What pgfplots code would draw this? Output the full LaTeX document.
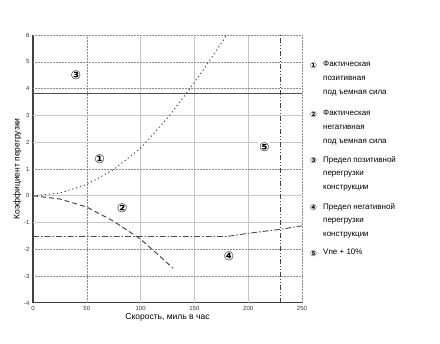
\documentclass[border=0pt]{standalone}
\usepackage{pgfplots}
\pgfplotsset{compat=1.18}
\usepackage{fontspec}
\setmainfont{Liberation Sans}
\newfontfamily\sym{DejaVu Sans}
\begin{document}
\begin{tikzpicture}[x=1pt,y=1pt]
\useasboundingbox (0,0) rectangle (440,344);
\begin{axis}[
  at={(33pt,41pt)}, anchor=south west,
  scale only axis, width=269pt, height=268pt,
  xmin=0, xmax=250, ymin=-4, ymax=6,
  xtick={0,50,...,250}, ytick={-4,-3,...,6},
  axis x line*=bottom, axis y line*=left,
  axis line style={black!75, line width=1pt},
  tick style={draw=none},
  /pgf/number format/assume math mode=true,
  ticklabel style={font=\fontsize{6}{7}\selectfont, text=black!80},
  xlabel={Скорость, миль в час}, ylabel={Коэффициент перегрузки},
  label style={font=\fontsize{8.5}{10}\selectfont},
  xlabel style={yshift=4pt}, ylabel style={yshift=-4pt},
  clip=false,
]
% grid
\foreach \xx in {100,150,200}{\edef\tmp{\noexpand\draw[black!22, line width=0.9pt] (axis cs:\xx,-4) -- (axis cs:\xx,6);}\tmp}
\foreach \xx in {50,250}{\edef\tmp{\noexpand\draw[black!45, densely dotted, line width=0.5pt] (axis cs:\xx,-4) -- (axis cs:\xx,6);}\tmp}
\foreach \yy in {3,2,0,-1}{\edef\tmp{\noexpand\draw[black!22, line width=0.9pt] (axis cs:0,\yy) -- (axis cs:250,\yy);}\tmp}
\foreach \yy in {6,5,4,1,-2,-3}{\edef\tmp{\noexpand\draw[black!45, densely dotted, line width=0.5pt] (axis cs:0,\yy) -- (axis cs:250,\yy);}\tmp}
% curve 1
\addplot[black!70, dash pattern=on 1.2pt off 2.8pt, line width=1pt] coordinates {(0,0) (25,0.1) (50,0.42) (75,0.98) (100,1.78) (125,2.9) (145,3.95) (160,4.8) (180,6)};
% curve 2
\addplot[black!70, dash pattern=on 5pt off 3pt, line width=1pt] coordinates {(0,0) (25,-0.12) (50,-0.42) (75,-0.95) (100,-1.62) (115,-2.15) (130,-2.7)};
% line 3
\addplot[black!70, line width=1pt] coordinates {(0,3.8) (250,3.8)};
% curve 4
\addplot[black!70, dash pattern=on 6pt off 2pt on 1.5pt off 2pt, line width=0.9pt] coordinates {(0,-1.52) (100,-1.52) (180,-1.52) (200,-1.4) (230,-1.25) (250,-1.12)};
% line 5
\addplot[black!75, dash pattern=on 5pt off 2pt on 1pt off 2pt on 1pt off 2pt, line width=0.9pt] coordinates {(230,-4) (230,6)};
% labels
\node[fill=white, inner sep=1pt, font=\sym\bfseries\fontsize{12}{12}\selectfont] at (axis cs:40,4.5) {③};
\node[fill=white, inner sep=1pt, font=\sym\bfseries\fontsize{12}{12}\selectfont] at (axis cs:62,1.35) {①};
\node[fill=white, inner sep=1pt, font=\sym\bfseries\fontsize{12}{12}\selectfont] at (axis cs:83,-0.45) {②};
\node[fill=white, inner sep=1pt, font=\sym\bfseries\fontsize{12}{12}\selectfont] at (axis cs:182,-2.25) {④};
\node[fill=white, inner sep=1pt, font=\sym\bfseries\fontsize{12}{12}\selectfont] at (axis cs:215,1.8) {⑤};
\end{axis}
\begin{scope}[every node/.style={anchor=north west, inner sep=0pt, align=left, font=\fontsize{8}{13.7}\selectfont}]
\node[font=\sym\bfseries\fontsize{8}{8}\selectfont, anchor=west] at (310,344-66) {①};
\node at (323,344-61) {Фактическая\\позитивная\\под ъемная сила};
\node[font=\sym\bfseries\fontsize{8}{8}\selectfont, anchor=west] at (310,344-115) {②};
\node at (323,344-110) {Фактическая\\негативная\\под ъемная сила};
\node[font=\sym\bfseries\fontsize{8}{8}\selectfont, anchor=west] at (310,344-161) {③};
\node at (323,344-156) {Предел позитивной\\перегрузки\\конструкции};
\node[font=\sym\bfseries\fontsize{8}{8}\selectfont, anchor=west] at (310,344-208) {④};
\node at (323,344-203) {Предел негативной\\перегрузки\\конструкции};
\node[font=\sym\bfseries\fontsize{8}{8}\selectfont, anchor=west] at (310,344-254) {⑤};
\node at (323,344-249) {Vne + 10\%};
\end{scope}
\end{tikzpicture}
\end{document}
